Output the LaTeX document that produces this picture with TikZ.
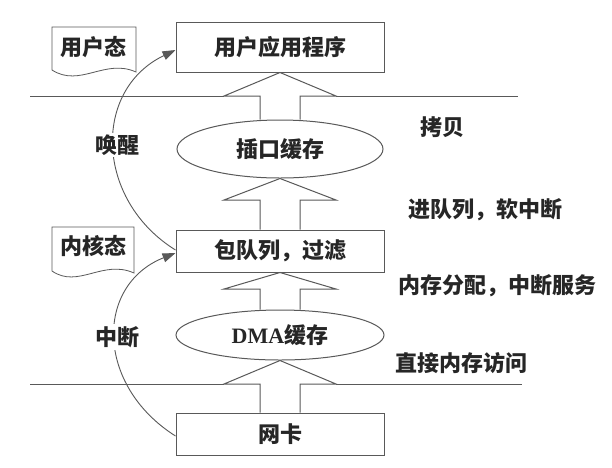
\documentclass[tikz,border=0pt]{standalone}
\usepackage{fontspec}
\newfontfamily\cjk{Noto Sans CJK SC}
\newfontfamily\latinserif{Liberation Serif}
\usetikzlibrary{shapes.geometric,arrows.meta,calc}
\begin{document}
\begin{tikzpicture}[x=1pt,y=-1pt,
  ln/.style={draw=black!65,line width=1pt},
  txt/.style={font=\cjk\bfseries\fontsize{22}{22}\selectfont,text=black!85,inner sep=0pt},
  boxn/.style={ln,rectangle,fill=white,minimum width=208pt,txt},
  ell/.style={ln,ellipse,fill=white,txt},
  blk/.style={ln,line join=miter},
  curve/.style={draw=black!65,line width=0.9pt},
  tipa/.style={-{Triangle[length=13pt,width=9pt]}},
  docshape/.style={draw=black!65,line width=0.8pt,fill=white},
  lbl/.style={txt,fill=white,inner sep=2pt},
]
\useasboundingbox (0,0) rectangle (612,467);
\fill[white] (0,0) rectangle (612,467);

% main column
\node[boxn,minimum height=50pt] (app) at (280,47) {用户应用程序};
\node[ell,minimum width=206pt,minimum height=58pt] (sock) at (280,149) {插口缓存};
\node[boxn,minimum height=42pt] (queue) at (280,251) {包队列，过滤};
\node[ell,minimum width=208pt,minimum height=50pt] (dma) at (280,335) {{\latinserif\bfseries DMA}缓存};
\node[boxn,minimum height=42pt] (nic) at (280,434) {网卡};

% head-base coordinates of the block arrows
\coordinate (h1) at (280,96);
\coordinate (h2) at (280,200);
\coordinate (h3) at (280,289);
\coordinate (h4) at (280,384);

% boundary lines
\coordinate (l1a) at (30,96);
\coordinate (l1b) at (518,96);
\coordinate (l2a) at (30,384);
\coordinate (l2b) at (522,384);
\draw[ln] (l1a) -- ($(h1)+(-56,0)$);
\draw[ln] ($(h1)+(56,0)$) -- (l1b);
\draw[ln] (l2a) -- ($(h4)+(-56,0)$);
\draw[ln] ($(h4)+(56,0)$) -- (l2b);

% block arrows
\newcommand\blockarrow[3]{%
  \draw[blk] ($(#1.north)+(-20,0)$) -- ($(#3)+(-20,0)$) -- ($(#3)+(-56,0)$)
    -- (#2.south) -- ($(#3)+(56,0)$) -- ($(#3)+(20,0)$) -- ($(#1.north)+(20,0)$);}
\blockarrow{sock}{app}{h1}
\blockarrow{queue}{sock}{h2}
\blockarrow{dma}{queue}{h3}
\blockarrow{nic}{dma}{h4}

% curved arrows
\draw[curve,tipa] ($(queue.west)+(0,-1)$) .. controls (95,200) and (92,90) .. ($(app.west)+(0,3)$);
\draw[curve,tipa] ($(nic.west)+(0,2)$) .. controls (95,385) and (95,285) .. ($(queue.west)+(0,2)$);
\node[lbl] (wake) at (117,145) {唤醒};
\node[lbl] (intr) at (117,337) {中断};

% state labels (document shapes)
\draw[docshape] (52,27) -- (136,27) -- (136,72) .. controls (105,58) and (80,88) .. (52,70) -- cycle;
\node[txt] (user) at (93,47) {用户态};
\draw[docshape] (52,227) -- (134,227) -- (134,273) .. controls (103,259) and (78,289) .. (52,271) -- cycle;
\node[txt] (kern) at (93,246) {内核态};

% right-hand labels
\node[txt] (copy) at (442,127) {拷贝};
\node[txt] (enq) at (485,210) {进队列，软中断};
\node[txt] (mem) at (497,286) {内存分配，中断服务};
\node[txt] (direct) at (461,363) {直接内存访问};
\end{tikzpicture}
\end{document}
